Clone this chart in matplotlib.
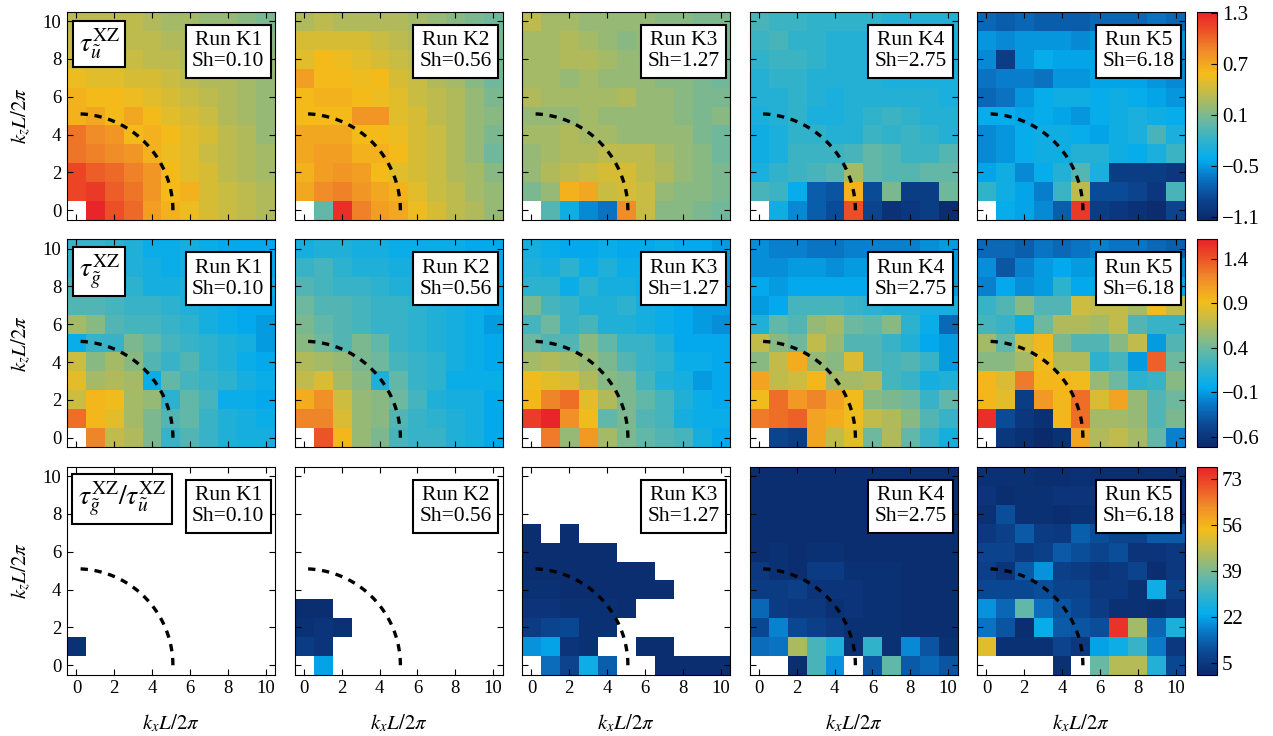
import numpy as np
import matplotlib
matplotlib.use('Agg')
import matplotlib.pyplot as plt
from matplotlib.colors import LinearSegmentedColormap

plt.rcParams['font.family'] = ['Liberation Serif', 'DejaVu Serif']
plt.rcParams['mathtext.fontset'] = 'stix'

nan = np.nan

# rows listed from kz=10 (top) down to kz=0, columns kx=0..10
tau_u_K1 = [
    [0.35, 0.35, 0.35, 0.35, 0.3, 0.25, 0.25, 0.2, 0.2, 0.15, 0.1],
    [0.4, 0.4, 0.4, 0.35, 0.35, 0.3, 0.3, 0.25, 0.2, 0.2, 0.15],
    [0.45, 0.45, 0.45, 0.4, 0.35, 0.35, 0.3, 0.25, 0.25, 0.2, 0.2],
    [0.55, 0.5, 0.5, 0.45, 0.45, 0.4, 0.35, 0.3, 0.3, 0.25, 0.2],
    [0.65, 0.6, 0.6, 0.55, 0.5, 0.45, 0.4, 0.35, 0.3, 0.25, 0.2],
    [0.65, 0.7, 0.6, 0.7, 0.6, 0.5, 0.45, 0.4, 0.3, 0.25, 0.2],
    [0.95, 0.85, 0.8, 0.6, 0.65, 0.6, 0.5, 0.45, 0.35, 0.3, 0.2],
    [0.95, 0.9, 0.85, 0.8, 0.65, 0.55, 0.5, 0.4, 0.35, 0.3, 0.25],
    [1.15, 1.05, 1.0, 0.9, 0.8, 0.6, 0.5, 0.45, 0.35, 0.3, 0.25],
    [1.15, 1.2, 1.05, 0.95, 0.8, 0.6, 0.65, 0.45, 0.4, 0.35, 0.3],
    [nan, 1.3, 1.1, 1.0, 0.75, 0.65, 0.55, 0.45, 0.4, 0.35, 0.3],
]
tau_u_K2 = [
    [0.3, 0.35, 0.3, 0.3, 0.3, 0.3, 0.25, 0.2, 0.15, 0.1, 0.05],
    [0.45, 0.45, 0.45, 0.45, 0.4, 0.35, 0.3, 0.25, 0.2, 0.15, 0.1],
    [0.5, 0.6, 0.55, 0.5, 0.45, 0.4, 0.35, 0.3, 0.2, 0.15, 0.1],
    [0.75, 0.6, 0.6, 0.55, 0.6, 0.45, 0.4, 0.3, 0.25, 0.15, 0.05],
    [0.6, 0.65, 0.65, 0.6, 0.55, 0.5, 0.4, 0.35, 0.3, 0.2, 0.1],
    [0.6, 0.6, 0.6, 0.8, 0.8, 0.5, 0.45, 0.35, 0.3, 0.2, 0.15],
    [0.7, 0.7, 0.7, 0.6, 0.6, 0.55, 0.45, 0.4, 0.3, 0.2, 0.1],
    [0.7, 0.75, 0.75, 0.65, 0.65, 0.6, 0.45, 0.4, 0.3, 0.2, 0.05],
    [0.65, 0.75, 0.8, 0.75, 0.6, 0.5, 0.45, 0.4, 0.3, 0.25, 0.15],
    [0.7, 0.85, 0.9, 0.8, 0.7, 0.65, 0.5, 0.4, 0.35, 0.25, 0.2],
    [nan, 0.0, 1.25, 0.9, 0.75, 0.7, 0.55, 0.45, 0.35, 0.3, 0.2],
]
tau_u_K3 = [
    [0.35, 0.25, 0.25, 0.2, 0.2, 0.2, 0.2, 0.15, 0.15, 0.1, 0.1],
    [0.25, 0.25, 0.3, 0.25, 0.2, 0.15, 0.2, 0.2, 0.15, 0.1, 0.1],
    [0.25, 0.25, 0.3, 0.3, 0.25, 0.2, 0.2, 0.15, 0.15, 0.1, 0.05],
    [0.25, 0.25, 0.2, 0.25, 0.2, 0.2, 0.2, 0.15, 0.15, 0.1, 0.05],
    [0.3, 0.25, 0.25, 0.25, 0.25, 0.3, 0.2, 0.2, 0.15, 0.1, 0.1],
    [0.2, 0.2, 0.2, 0.25, 0.2, 0.2, 0.2, 0.2, 0.15, 0.1, 0.15],
    [0.25, 0.25, 0.3, 0.25, 0.25, 0.2, 0.2, 0.2, 0.2, 0.1, 0.05],
    [0.2, 0.25, 0.3, 0.3, 0.35, 0.35, 0.35, 0.25, 0.2, 0.15, 0.05],
    [0.2, 0.3, 0.35, 0.4, 0.45, 0.45, 0.35, 0.3, 0.2, 0.15, 0.1],
    [0.1, 0.2, 0.65, 0.7, 0.4, 0.45, 0.4, 0.2, 0.15, 0.15, 0.1],
    [nan, -0.05, -0.35, -0.55, -0.65, 0.85, 0.4, 0.15, 0.15, 0.1, 0.05],
]
tau_u_K4 = [
    [-0.1, -0.15, -0.15, -0.2, -0.2, -0.2, -0.2, -0.25, -0.25, -0.25, -0.25],
    [-0.15, -0.1, -0.2, -0.2, -0.25, -0.25, -0.25, -0.25, -0.25, -0.3, -0.3],
    [-0.2, -0.15, -0.15, -0.2, -0.25, -0.25, -0.25, -0.3, -0.3, -0.3, -0.3],
    [-0.25, -0.2, -0.2, -0.25, -0.25, -0.25, -0.25, -0.3, -0.3, -0.3, -0.3],
    [-0.25, -0.25, -0.2, -0.25, -0.3, -0.25, -0.25, -0.25, -0.25, -0.25, -0.3],
    [-0.3, -0.25, -0.2, -0.3, -0.3, -0.25, -0.2, -0.15, -0.2, -0.25, -0.25],
    [-0.35, -0.3, -0.2, -0.2, -0.25, -0.25, -0.15, -0.2, -0.15, -0.2, -0.25],
    [-0.35, -0.3, -0.15, -0.15, -0.15, -0.1, 0.0, -0.05, -0.15, -0.15, -0.05],
    [-0.3, -0.2, -0.15, -0.1, -0.05, 0.25, 0.0, -0.05, -0.05, 0.0, 0.0],
    [-0.1, -0.15, -0.4, -0.75, -0.8, 0.65, -0.85, 0.1, -0.95, -0.95, 0.05],
    [nan, -0.35, -0.55, -0.75, -0.85, 1.1, -0.9, -1.05, -1.0, -0.95, -1.1],
]
tau_u_K5 = [
    [-0.7, -0.75, -0.7, -0.75, -0.75, -0.75, -0.7, -0.7, -0.7, -0.65, -0.7],
    [-0.5, -0.55, -0.5, -0.5, -0.5, -0.55, -0.5, -0.5, -0.5, -0.5, -0.5],
    [-0.55, -0.95, -0.5, -0.4, -0.45, -0.45, -0.45, -0.45, -0.5, -0.5, -0.55],
    [-0.65, -0.6, -0.6, -0.65, -0.5, -0.5, -0.45, -0.45, -0.45, -0.5, -0.55],
    [-0.7, -0.65, -0.5, -0.4, -0.35, -0.35, -0.4, -0.35, -0.4, -0.45, -0.5],
    [-0.4, -0.4, -0.45, -0.4, -0.45, -0.5, -0.4, -0.35, -0.3, -0.35, -0.4],
    [-0.55, -0.5, -0.4, -0.35, -0.35, -0.4, -0.45, -0.35, -0.3, -0.1, -0.3],
    [-0.55, -0.5, -0.4, -0.35, -0.35, -0.25, -0.25, -0.35, -0.4, -0.3, -0.15],
    [-0.45, -0.35, -0.55, -0.4, -0.25, -0.05, -0.3, -0.95, -0.95, -0.95, -1.0],
    [-0.2, -0.35, -0.45, -0.6, -0.15, 0.35, -0.85, -0.85, -0.9, -1.0, -0.1],
    [nan, -0.4, -0.45, -0.55, -0.75, 1.2, -0.95, -1.0, -1.05, -1.1, -0.9],
]

tau_g_K1 = [
    [0.2, 0.2, 0.15, 0.1, 0.0, 0.0, 0.05, 0.0, -0.05, -0.05, -0.05],
    [0.2, 0.2, 0.15, 0.1, 0.05, 0.0, 0.05, 0.05, 0.0, -0.05, -0.05],
    [0.25, 0.2, 0.2, 0.15, 0.05, 0.05, 0.1, 0.05, 0.0, 0.0, 0.0],
    [0.3, 0.3, 0.25, 0.2, 0.2, 0.15, 0.1, 0.05, 0.0, -0.05, -0.05],
    [0.6, 0.5, 0.3, 0.25, 0.25, 0.2, 0.15, 0.05, 0.0, -0.05, -0.1],
    [0.0, 0.2, 0.2, 0.45, 0.35, 0.25, 0.2, 0.15, 0.1, 0.05, -0.1],
    [0.75, 0.5, 0.6, 0.5, 0.3, 0.2, 0.3, 0.15, 0.1, 0.0, -0.05],
    [0.85, 0.6, 0.65, 0.6, 0.0, 0.35, 0.25, 0.2, 0.15, 0.05, 0.0],
    [0.75, 0.95, 0.9, 0.6, 0.55, 0.15, 0.35, 0.25, 0.0, 0.0, -0.05],
    [1.3, 0.95, 0.85, 0.6, 0.45, 0.3, 0.35, 0.2, 0.1, 0.05, 0.0],
    [nan, 1.2, 0.7, 0.65, 0.45, 0.2, 0.3, 0.2, 0.1, 0.05, 0.05],
]
tau_g_K2 = [
    [0.05, 0.1, 0.1, 0.05, 0.05, 0.0, 0.0, 0.0, 0.0, -0.05, -0.05],
    [0.2, 0.25, 0.15, 0.1, 0.1, 0.05, 0.05, 0.0, 0.0, -0.05, -0.05],
    [0.3, 0.25, 0.2, 0.2, 0.15, 0.1, 0.1, 0.05, 0.0, 0.0, -0.05],
    [0.4, 0.3, 0.3, 0.25, 0.2, 0.2, 0.15, 0.1, 0.05, 0.0, -0.05],
    [0.45, 0.35, 0.3, 0.25, 0.2, 0.2, 0.15, 0.1, 0.05, 0.0, -0.1],
    [0.5, 0.4, 0.3, 0.45, 0.35, 0.2, 0.15, 0.1, 0.05, 0.0, -0.05],
    [0.65, 0.6, 0.55, 0.45, 0.4, 0.25, 0.2, 0.15, 0.05, 0.0, -0.05],
    [0.7, 0.8, 0.6, 0.5, 0.1, 0.35, 0.2, 0.15, 0.0, 0.0, 0.0],
    [1.0, 1.15, 0.75, 0.55, 0.5, 0.4, 0.25, 0.1, 0.05, 0.05, -0.05],
    [1.2, 1.2, 0.8, 0.55, 0.5, 0.3, 0.2, 0.15, 0.1, 0.05, -0.05],
    [nan, 1.4, 0.95, 0.55, 0.45, 0.25, 0.2, 0.2, 0.1, 0.05, -0.05],
]
tau_g_K3 = [
    [0.05, 0.0, -0.05, -0.05, 0.0, -0.05, -0.05, 0.0, -0.05, -0.05, -0.1],
    [0.1, 0.05, 0.15, 0.0, 0.1, 0.0, 0.0, -0.05, -0.05, -0.05, -0.1],
    [0.15, 0.15, 0.0, 0.15, 0.05, 0.05, 0.0, -0.05, -0.05, -0.1, -0.1],
    [0.45, 0.25, 0.2, 0.1, 0.1, 0.15, 0.05, 0.0, -0.05, -0.1, -0.1],
    [0.25, 0.4, 0.2, 0.25, 0.1, 0.1, 0.05, 0.0, -0.05, -0.1, -0.15],
    [0.4, 0.3, 0.3, 0.5, 0.35, 0.2, 0.2, 0.1, -0.05, -0.05, -0.05],
    [0.6, 0.65, 0.6, 0.55, 0.45, 0.3, 0.2, 0.15, 0.0, 0.0, -0.05],
    [0.9, 0.85, 0.8, 0.65, 0.5, 0.45, 0.25, 0.1, 0.05, -0.1, -0.05],
    [0.95, 1.2, 1.3, 0.85, 0.65, 0.45, 0.35, 0.25, 0.1, 0.0, -0.05],
    [1.5, 1.6, 1.15, 0.9, 0.35, 0.45, 0.3, 0.25, 0.05, 0.0, 0.0],
    [nan, 1.25, 0.55, 1.1, 0.6, 0.45, 0.35, 0.3, 0.25, 0.05, -0.05],
]
tau_g_K4 = [
    [-0.15, -0.2, -0.2, -0.25, -0.25, -0.2, -0.2, -0.2, -0.2, -0.15, -0.1],
    [-0.15, -0.15, -0.1, -0.1, -0.15, -0.1, -0.1, -0.1, -0.1, -0.1, -0.1],
    [-0.05, -0.1, -0.05, -0.05, -0.05, -0.05, -0.05, -0.05, -0.05, -0.05, -0.1],
    [-0.1, -0.05, 0.25, 0.25, 0.25, 0.2, 0.15, 0.1, 0.1, 0.05, 0.05],
    [0.1, 0.35, 0.3, 0.55, 0.6, 0.4, 0.35, 0.5, 0.15, 0.0, -0.3],
    [0.7, 0.5, 0.4, 0.7, 0.55, 0.3, 0.3, 0.2, 0.1, -0.05, -0.1],
    [0.5, 0.7, 1.0, 0.55, 0.5, 0.8, 0.3, 0.25, 0.3, 0.2, -0.1],
    [1.05, 0.7, 0.75, 0.95, 0.6, 0.6, 0.65, 0.25, 0.2, 0.05, 0.1],
    [0.9, 1.3, 1.1, 1.2, 1.05, 0.9, 0.5, 0.45, 0.4, 0.2, 0.35],
    [1.25, 1.3, 1.35, 1.05, 1.0, 0.9, 0.7, 0.65, 0.5, 0.3, 0.2],
    [nan, -0.5, -0.55, 1.05, 0.7, 0.85, 0.4, 0.65, 0.35, 0.2, 0.05],
]
tau_g_K5 = [
    [-0.3, -0.3, -0.35, -0.25, -0.3, -0.25, -0.2, -0.25, -0.25, -0.3, -0.35],
    [-0.15, -0.4, -0.2, -0.1, -0.05, -0.1, -0.1, -0.1, -0.15, -0.15, -0.15],
    [-0.2, -0.05, -0.15, -0.1, 0.15, -0.05, -0.05, -0.05, -0.1, -0.1, -0.05],
    [0.2, 0.3, 0.5, 0.3, 0.3, 0.75, 0.7, 0.7, 0.6, 0.9, 0.7],
    [0.25, 0.2, 0.0, 0.4, 0.65, 0.65, 0.6, 0.7, 0.3, 0.2, 0.2],
    [0.6, 0.35, 0.75, 0.95, 0.45, 0.3, 0.3, 0.5, 0.7, -0.1, 0.3],
    [0.5, 0.5, 0.6, 0.9, 0.65, 0.65, 0.15, 0.25, -0.1, 1.35, 0.4],
    [0.95, 0.8, 1.25, 0.95, 0.95, 0.9, 0.55, 0.4, 0.15, 0.2, 0.5],
    [0.95, 0.85, -0.55, 1.1, 0.95, 1.3, 0.8, 1.05, 0.55, 0.3, 0.4],
    [1.55, -0.45, -0.6, -0.65, 0.95, 1.3, 0.6, 0.6, 0.55, 0.3, 0.45],
    [nan, -0.6, -0.65, -0.72, -0.65, 1.05, 0.65, 0.7, 0.6, 0.35, -0.2],
]

ratio_K1 = [[nan] * 11 for _ in range(9)] + [
    [3] + [nan] * 10,
    [nan] * 11,
]
ratio_K2 = [[nan] * 11 for _ in range(7)] + [
    [2, 2] + [nan] * 9,
    [3, 4, 3] + [nan] * 8,
    [6, 4] + [nan] * 9,
    [nan, 22] + [nan] * 9,
]
ratio_K3 = [
    [nan] * 11,
    [nan] * 11,
    [nan] * 11,
    [2, nan, 2] + [nan] * 8,
    [2, 2, 2, 2, 2] + [nan] * 6,
    [2, 2, 2, 2, 2, 2, 2] + [nan] * 4,
    [3, 3, 2, 2, 2, 2, 2, 2] + [nan] * 3,
    [4, 4, 3, 3, 3, 2] + [nan] * 5,
    [6, 8, 9, 3, 3] + [nan] * 6,
    [20, 22, 4, 3, nan, nan, 2, 2, nan, nan, nan],
    [nan, 15, 8, 25, 13, nan, nan, 2, 2, 2, 2],
]
ratio_K4 = [
    [2, 2, 2, 2, 2, 2, 2, 2, 2, 2, 2],
    [2, 2, 2, 2, 2, 2, 2, 2, 2, 2, 2],
    [2, 2, 2, 2, 2, 2, 2, 2, 2, 2, 2],
    [2, 2, 2, 2, 2, 2, 2, 2, 2, 2, 2],
    [2, 3, 2, 3, 3, 2, 2, 2, 2, 2, 2],
    [5, 3, 2, 6, 6, 3, 3, 3, 2, 2, 2],
    [6, 6, 7, 4, 4, 4, 3, 3, 2, 2, 2],
    [14, 6, 5, 5, 3, 4, 3, 3, 2, 2, 2],
    [9, 18, 9, 7, 5, 3, 3, 3, 2, 2, 2],
    [15, 16, 45, 33, 27, 3, 30, 3, 19, 11, 3],
    [nan, nan, 2, 33, 20, nan, 11, 36, 12, 14, 11],
]
ratio_K5 = [
    [3, 3, 3, 2, 2, 3, 2, 2, 2, 2, 2],
    [4, 2, 3, 3, 4, 4, 4, 3, 3, 3, 3],
    [3, 10, 3, 3, 2, 3, 3, 3, 3, 3, 3],
    [5, 7, 12, 6, 5, 13, 10, 8, 8, 12, 12],
    [8, 8, 5, 7, 12, 10, 8, 10, 4, 4, 5],
    [7, 4, 12, 20, 7, 6, 4, 5, 8, 2, 5],
    [9, 9, 9, 10, 8, 8, 5, 5, 3, 25, 7],
    [20, 14, 36, 15, 11, 9, 6, 3, 3, 2, 4],
    [16, 11, 2, 24, 12, 11, 10, 75, 44, 14, 27],
    [52, 3, 3, 3, 8, 5, 22, 25, 31, 17, 5],
    [nan, nan, nan, nan, 3, nan, 37, 46, 46, 28, 9],
]

runs = ['Run K1', 'Run K2', 'Run K3', 'Run K4', 'Run K5']
shear = ['0.10', '0.56', '1.27', '2.75', '6.18']
row_data = [
    [tau_u_K1, tau_u_K2, tau_u_K3, tau_u_K4, tau_u_K5],
    [tau_g_K1, tau_g_K2, tau_g_K3, tau_g_K4, tau_g_K5],
    [ratio_K1, ratio_K2, ratio_K3, ratio_K4, ratio_K5],
]
row_labels = [r'$\tau_{\tilde{u}}^{\mathrm{XZ}}$',
              r'$\tau_{\tilde{g}}^{\mathrm{XZ}}$',
              r'$\tau_{\tilde{g}}^{\mathrm{XZ}}/\tau_{\tilde{u}}^{\mathrm{XZ}}$']
row_limits = [(-1.13, 1.32), (-0.72, 1.62), (0.7, 77.6)]
row_ticks = [[-1.1, -0.5, 0.1, 0.7, 1.3],
             [-0.6, -0.1, 0.4, 0.9, 1.4],
             [5, 22, 39, 56, 73]]
row_ticklabels = [['−1.1', '−0.5', '0.1', '0.7', '1.3'],
                  ['−0.6', '−0.1', '0.4', '0.9', '1.4'],
                  ['5', '22', '39', '56', '73']]

cmap = LinearSegmentedColormap.from_list('custom', [
    (0.0, '#0b2a6c'), (0.10, '#0b4590'), (0.20, '#0a74c4'), (0.29, '#03acee'),
    (0.38, '#30b2cc'), (0.47, '#68b8a4'), (0.55, '#9cba70'), (0.62, '#c8bc44'),
    (0.70, '#f4bd1a'), (0.82, '#f0882a'), (0.92, '#ec4c26'), (1.0, '#e8222a')])
cmap.set_bad('white')

W, H = 1273, 736
fig = plt.figure(figsize=(W / 100, H / 100), dpi=100)

theta = np.linspace(0, np.pi / 2, 100)
for r in range(3):
    top = 11.7 + 227.5 * r
    vmin, vmax = row_limits[r]
    for c in range(5):
        left = 67 + 227.5 * c
        ax = fig.add_axes([left / W, 1 - (top + 208) / H, 208 / W, 208 / H])
        data = np.array(row_data[r][c], dtype=float)
        im = ax.imshow(data, cmap=cmap, vmin=vmin, vmax=vmax, origin='upper',
                       extent=(-0.5, 10.5, -0.5, 10.5), aspect='auto',
                       interpolation='nearest')
        ax.plot(5.1 * np.cos(theta), 5.1 * np.sin(theta), 'k--', lw=2.4,
                dashes=(2.2, 2.0))
        ax.set_xlim(-0.5, 10.5)
        ax.set_ylim(-0.5, 10.5)
        ax.set_xticks(range(0, 11, 2))
        ax.set_yticks(range(0, 11, 2))
        ax.tick_params(direction='in', top=True, right=True, length=4,
                       labelsize=13.5, pad=4)
        if c > 0:
            ax.set_yticklabels([])
        else:
            ax.set_ylabel(r'$k_zL/2\pi$', fontsize=15, labelpad=7)
        if r < 2:
            ax.set_xticklabels([])
        else:
            ax.set_xlabel(r'$k_xL/2\pi$', fontsize=15, labelpad=11)
        ax.text(0.775, 0.81, runs[c] + '\nSh=' + shear[c], transform=ax.transAxes,
                ha='center', va='center', fontsize=15.5, linespacing=1.15,
                bbox=dict(boxstyle='square,pad=0.3', fc='white', ec='black', lw=1.5))
        if c == 0:
            xl = 0.155 if r < 2 else 0.264
            ax.text(xl, 0.845, row_labels[r], transform=ax.transAxes,
                    ha='center', va='center', fontsize=20,
                    bbox=dict(boxstyle='square,pad=0.2', fc='white', ec='black', lw=1.5))
    cax = fig.add_axes([1197 / W, 1 - (top + 208) / H, 20 / W, 208 / H])
    cb = fig.colorbar(im, cax=cax)
    cb.set_ticks(row_ticks[r])
    cb.set_ticklabels(row_ticklabels[r])
    cb.ax.tick_params(direction='in', length=4, labelsize=15)
    cb.outline.set_linewidth(0.8)

plt.savefig('out.png', dpi=100)
